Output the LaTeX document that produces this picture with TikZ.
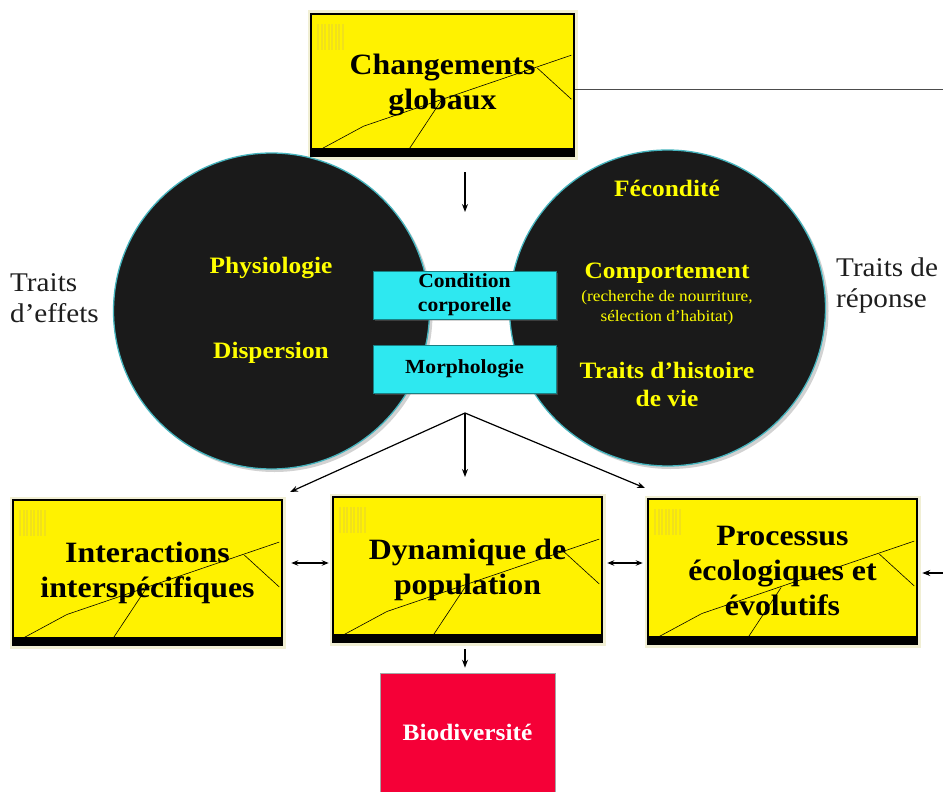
\documentclass[tikz,border=0pt]{standalone}
\usepackage{fontspec}
\setmainfont{Liberation Serif}[FakeStretch=1.08]
\usetikzlibrary{arrows.meta,shadows,calc}
\definecolor{glow}{RGB}{225,220,160}
\definecolor{circfill}{RGB}{26,26,26}
\definecolor{circline}{RGB}{70,180,190}
\definecolor{cyanbox}{RGB}{46,232,240}
\definecolor{redbox}{RGB}{245,0,55}
\definecolor{barcode}{RGB}{225,205,60}
\definecolor{txtyel}{RGB}{255,255,0}
\definecolor{txtgray}{RGB}{30,30,30}
\begin{document}
\begin{tikzpicture}[x=1pt,y=-1pt,
  ybox/.style={rectangle, fill=yellow, draw=black, line width=2.5pt, align=center,
    inner sep=0pt, text=black, font=\bfseries\fontsize{29.5}{35}\selectfont,
    preaction={draw=glow, line width=7pt, opacity=0.45},
    path picture={
      \coordinate (pa) at (path picture bounding box.north west);
      \coordinate (pb) at (path picture bounding box.south east);
      \foreach \i in {0,...,7}{\fill[barcode,opacity=0.45] ($(pa)+(6+3.5*\i,10)$) rectangle ++(2.2,26);}
      \draw[line width=0.6pt] let \p1=(pa),\p2=(pb) in
        ({\x1+0.04*(\x2-\x1)},{\y1+0.95*(\y2-\y1)}) --
        ({\x1+0.2*(\x2-\x1)},{\y1+0.79*(\y2-\y1)}) --
        ({\x1+0.99*(\x2-\x1)},{\y1+0.29*(\y2-\y1)});
      \draw[line width=0.6pt] let \p1=(pa),\p2=(pb) in
        ({\x1+0.86*(\x2-\x1)},{\y1+0.38*(\y2-\y1)}) --
        ({\x1+0.99*(\x2-\x1)},{\y1+0.60*(\y2-\y1)});
      \draw[line width=0.6pt] let \p1=(pa),\p2=(pb) in
        ({\x1+0.495*(\x2-\x1)},{\y1+0.61*(\y2-\y1)}) --
        ({\x1+0.37*(\x2-\x1)},{\y1+0.96*(\y2-\y1)});
      \fill[black] (pb) rectangle ($(pa|-pb)+(0,-8)$);
    }},
  bigcirc/.style={circle, fill=circfill, draw=circline, line width=1.3pt, inner sep=0pt,
    minimum size=316pt, drop shadow={shadow xshift=3pt, shadow yshift=-3pt, opacity=0.35}},
  cbox/.style={rectangle, fill=cyanbox, draw=cyanbox!55!black, line width=0.4pt, inner sep=0pt,
    minimum width=183pt, minimum height=48pt, align=center,
    font=\bfseries\fontsize{20}{24}\selectfont,
    drop shadow={shadow xshift=2pt, shadow yshift=-2pt, opacity=0.35}},
  ctext/.style={text=txtyel, align=center, font=\bfseries\fontsize{23.5}{28}\selectfont},
  side/.style={text=txtgray, align=left, anchor=west, inner sep=0pt, font=\fontsize{27}{31}\selectfont},
  arr/.style={-{Stealth[length=8pt,width=6pt]}, line width=1.2pt},
  darr/.style={{Stealth[length=7pt,width=5.5pt]}-{Stealth[length=7pt,width=5.5pt]}, line width=1.2pt}]
\useasboundingbox (0,0) rectangle (943,792);
\fill[white] (0,0) rectangle (943,792);

% top box
\node[ybox, minimum width=263pt, minimum height=142pt] (cg) at (442.5,85) {Changements\\globaux};
\coordinate (rt) at (943,90);
\draw[line width=1pt, black!70] (cg.east |- rt) -- (rt);

% circles
\node[bigcirc] (lc) at (271.5,311) {};
\node[bigcirc] (rc) at (667.5,308) {};

\coordinate (a1) at (465,172);
\coordinate (a2) at (465,212);
\draw[arr] (a1) -- (a2);

\node[ctext] (phys) at (271,268) {Physiologie};
\node[ctext] (disp) at (271,353) {Dispersion};
\node[ctext] (fec) at (667,188) {Fécondité};
\node[ctext] (comp) at (667,273) {Comportement};
\node[text=txtyel, align=center, font=\fontsize{16}{20}\selectfont] (compsub) at (667,308) {(recherche de nourriture,\\sélection d’habitat)};
\node[ctext] (hist) at (667,384) {Traits d’histoire\\de vie};

\node[cbox] (cond) at (464.5,295) {Condition\\corporelle};
\node[cbox] (morph) at (464.5,369) {Morphologie};

\node[side] (teff) at (10,298) {Traits\\d’effets};
\node[side] (trep) at (836,286) {Traits de\\réponse};

% bottom boxes
\node[ybox, minimum width=269pt, minimum height=145pt] (inter) at (147.5,572.5) {Interactions\\interspécifiques};
\node[ybox, minimum width=269pt, minimum height=145pt] (dyn) at (467.5,569.5) {Dynamique de\\population};
\node[ybox, minimum width=269pt, minimum height=145pt] (proc) at (782.5,571.5) {Processus\\écologiques et\\évolutifs};

% fan arrows
\coordinate (hub) at (465,413);
\coordinate (t1) at (290,492);
\coordinate (t2) at (465,477);
\coordinate (t3) at (645,488);
\draw[arr] (hub) -- (t1);
\draw[arr] (hub) -- (t2);
\draw[arr] (hub) -- (t3);

% horizontal arrows
\draw[darr] ([xshift=8pt]inter.east |- 0,563) -- ([xshift=-3pt]dyn.west |- 0,563);
\draw[darr] ([xshift=4pt]dyn.east |- 0,563) -- ([xshift=-4pt]proc.west |- 0,563);
\coordinate (rin) at (943,573);
\draw[arr] (rin) -- ([xshift=4pt]proc.east |- rin);

% biodiversity
\node[rectangle, fill=redbox, draw=gray!70, line width=0.6pt, minimum width=175pt, minimum height=119pt,
  inner sep=0pt, text=white, font=\bfseries\fontsize{23.5}{28}\selectfont] (bio) at (467.5,732.5) {Biodiversité};
\draw[arr] ([yshift=-6pt]dyn.south -| 465,0) -- ([yshift=5pt]bio.north -| 465,0);
\end{tikzpicture}
\end{document}
